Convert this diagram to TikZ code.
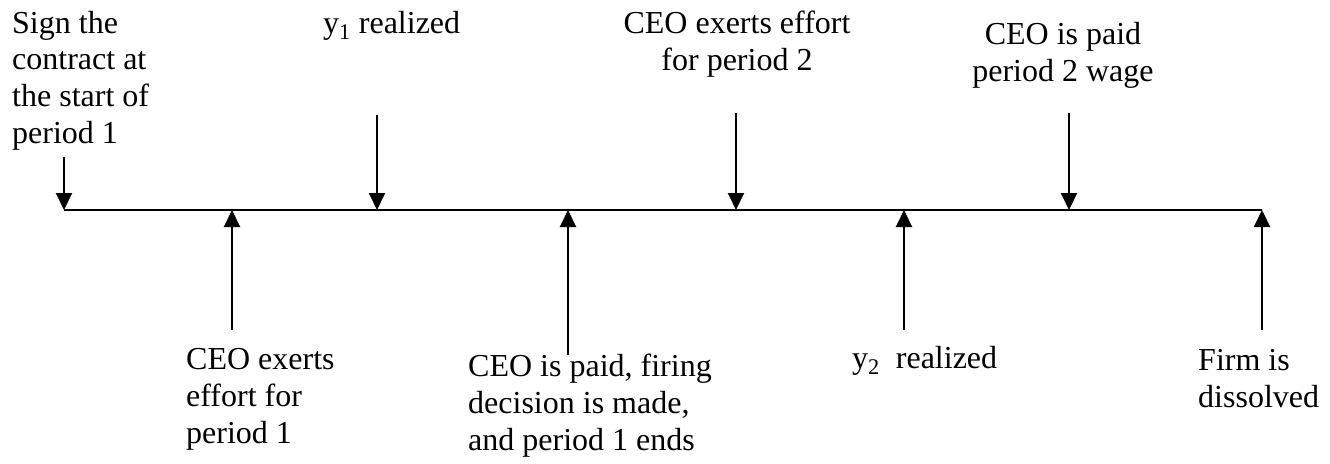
\documentclass[tikz,border=0pt]{standalone}
\usepackage{fontspec}
\setmainfont{Liberation Serif}
\usetikzlibrary{arrows.meta}
\begin{document}
\begin{tikzpicture}[x=1pt,y=-1pt,
  lbl/.style={inner sep=0pt, font=\fontsize{32}{36.6}\selectfont, align=left},
  lblc/.style={lbl, align=center},
  evt/.style={line width=2pt, -{Triangle[length=17pt,width=16pt]}},
  axis/.style={line width=2pt}]
\useasboundingbox (0,0) rectangle (1330,463);
% points on the time line
\coordinate (t0) at (64,210);
\coordinate (t1) at (232,210);
\coordinate (t2) at (377,210);
\coordinate (t3) at (568,210);
\coordinate (t4) at (736,210);
\coordinate (t5) at (904,210);
\coordinate (t6) at (1069,210);
\coordinate (t7) at (1262,210);
% free ends of the arrows
\coordinate (s0) at (64,157);
\coordinate (s1) at (232,330);
\coordinate (s2) at (377,115);
\coordinate (s3) at (568,355);
\coordinate (s4) at (736,113);
\coordinate (s5) at (904,330);
\coordinate (s6) at (1069,113);
\coordinate (s7) at (1262,330);
% time line
\draw[axis] (t0) -- (t7);
% arrows
\foreach \i in {0,...,7} {\draw[evt] (s\i) -- (t\i);}
% labels (base anchor = baseline of the last line)
\node[lbl, anchor=base west] (sign) at (12,143) {Sign the\\contract at\\the start of\\period 1};
\node[lbl, anchor=base west] (y1) at (323,33) {y\textsubscript{1} realized};
\node[lblc, anchor=base] (eff2) at (737,70) {CEO exerts effort\\for period 2};
\node[lblc, anchor=base] (paid2) at (1063,81) {CEO is paid\\period 2 wage};
\node[lbl, anchor=base west] (eff1) at (186,443) {CEO exerts\\effort for\\period 1};
\node[lbl, anchor=base west] (fire) at (468,450) {CEO is paid, firing\\decision is made,\\and period 1 ends};
\node[lbl, anchor=base west] (y2) at (852,368) {y\textsubscript{2}\ \ realized};
\node[lbl, anchor=base west] (firm) at (1198,407) {Firm is\\dissolved};
\end{tikzpicture}
\end{document}
